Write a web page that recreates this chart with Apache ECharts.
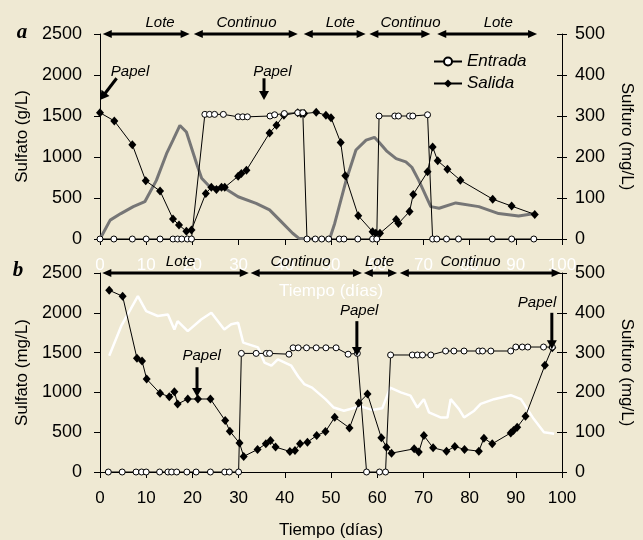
<!DOCTYPE html>
<html><head><meta charset="utf-8">
<script src="https://cdn.jsdelivr.net/npm/echarts/dist/echarts.min.js"></script>
<style>html,body{margin:0;padding:0;background:#efe9d3}#c{width:643px;height:540px}</style>
</head><body><div id="c"></div><script>
// ---------- Panel a data (x = días, y = value) ----------
const entradaA = [[0,0],[3,0],[7,0],[10,0],[13,0],[15.8,0],[16.8,0],[17.7,0],[18.9,0],[19.8,0],
 [22.7,1520],[23.7,1520],[24.8,1520],[26.7,1520],[29.9,1490],[30.9,1490],[31.9,1490],[36.8,1500],[37.8,1515],[39.9,1530],[42.8,1540],[43.9,1540],
 [44.8,0],[46.6,0],[48,0],[49.5,0],[51.8,0],[52.8,0],[55.8,0],[59,0],[59.9,0],
 [60.4,1500],[63.8,1500],[64.6,1500],[67,1500],[67.7,1500],[70.9,1515],
 [72,0],[72.9,0],[75,0],[77.6,0],[84.9,0],[89.1,0],[93.9,0]];
const salidaA = [[0,1540],[3.1,1440],[7,1150],[9.9,710],[13,585],[15.8,245],[17.1,170],[18.7,95],[19.8,110],
 [22.9,556],[24.1,630],[25.2,605],[26.3,630],[27,630],[29.9,766],[30.6,800],[31.7,839],[36.7,1293],[38.2,1387],
 [39.8,1510],[42.8,1540],[43.5,1530],[44.2,1530],[46.8,1545],[48.9,1510],[50,1480],[52.1,1176],[53.1,770],
 [55.9,284],[59,89],[59.7,70],[60.6,70],[64.1,239],[64.6,190],[67,335],[67.8,544],[70.9,819],[72,1123],
 [73.1,953],[75.2,852],[78,717],[85,486],[89.1,401],[94.1,300]];
const sulfuroA = [[0,0],[2.2,46],[4.5,62],[7.2,79],[9.7,91],[12.2,143],[14.4,208],[15.8,241],[17.3,277],[18.7,261],
 [20.9,184],[22,148],[23.8,127],[27,124],[29.9,103],[33.8,87],[36.7,71],[38.9,46],[41.7,14],[43,2],[45,0],[49.7,0],
 [50.8,38],[53.3,144],[55.4,217],[57.6,241],[59.4,248],[60.4,236],[62,215],[64.1,196],[66.2,188],[67.5,175],
 [69,143],[71.6,79],[73.4,75],[77,88],[82,79],[86.3,62],[90.6,56],[94.1,62]];
// ---------- Panel b data ----------
const entradaB = [[1.8,0],[4.8,0],[7.8,0],[9,0],[10,0],[12.9,0],[14.7,0],[15.5,0],[16.6,0],[18.8,0],[20.8,0],[23.9,0],[27,0],[28,0],[30,0],
 [30.6,1490],[33.8,1490],[36,1490],[36.7,1490],[40.9,1480],[41.8,1560],[42.9,1560],[44.7,1560],[46.8,1560],[48.9,1560],[51.1,1560],
 [53.7,1480],[55.7,1490],[57.7,0],[60.5,0],[61.8,0],
 [62.9,1470],[67.6,1470],[68.7,1470],[69.8,1470],[71.6,1470],[74.8,1520],[76.6,1520],[78.8,1520],[82,1520],[82.8,1520],[84.6,1520],
 [88.9,1520],[90,1570],[91.4,1570],[92.6,1570],[96,1570],[97.9,1570]];
const salidaB = [[2,2283],[4.9,2208],[8,1429],[9.1,1396],[10.1,1167],[13,988],[15,946],[16.1,1008],[16.8,854],[19,917],[21.2,917],[23.9,917],
 [27.1,646],[28.1,513],[30.2,363],[31.1,196],[34.1,283],[35.9,354],[36.9,396],[38,313],[41.1,258],[42.2,271],[43.3,354],[44.9,375],
 [46.9,458],[48.8,508],[50.8,687],[54,554],[56,866],[57.9,979],[60.9,429],[62,312],[63.1,237],[68,291],[69,250],[70.1,458],[72.1,304],
 [75,262],[76.8,321],[78.9,283],[82,262],[83.1,425],[84.9,354],[88.9,491],[89.5,521],[90.3,562],[92.1,700],[96.3,1341],[97.9,1562]];
const sulfuroB = [[2,292],[4.6,367],[8.2,442],[10,404],[12.5,392],[14.7,396],[16.1,358],[16.8,379],[19,354],[21.9,383],[24.1,400],
 [26.9,358],[28.4,371],[29.9,375],[31,325],[34.2,313],[35.6,275],[37.1,267],[38.5,283],[41.4,267],[42.9,240],[44.2,221],[45.9,212],
 [48.8,183],[50.6,162],[52.8,154],[56.4,165],[58.9,156],[61.1,160],[62.8,212],[65.1,200],[67.2,192],[68.7,162],[70.1,183],[71.2,150],
 [73.7,137],[75.2,137],[75.9,183],[77.7,158],[78.8,137],[81,154],[82.4,171],[85.3,183],[88.9,193],[91.1,183],[93.9,133],[96.1,100],[98.3,96]];
// ---------- annotations (data coordinates) ----------
const phasesA = [[0.6,19.4,'Lote',13],[20.3,42.8,'Continuo',31.7],[44.1,57.5,'Lote',52],[58.3,71.5,'Continuo',67.2],[73,94.6,'Lote',86.2]];
const phasesB = [[0.5,32.2,'Lote',17.4],[32.6,56.7,'Continuo',43.4],[57.1,64.3,'Lote',60.5],[64.9,99.7,'Continuo',80.2]];
// [textX, textY, arrowX1, arrowY1, arrowX2, arrowY2]
const papelA = [[6.5,2037,3.6,1960,0,1695],[37.3,2040,35.5,1960,35.5,1695]];
const papelB = [[22,1454,21,1316,21,941],[56.1,2020,55.6,1895,55.6,1458],[94.6,2125,97.8,2000,97.8,1541]];

const FONT = "'Liberation Sans', Arial, sans-serif";
const BLACK = '#000';
const chart = echarts.init(document.getElementById('c'));
const plain = v => String(v);

function xAx(gi, labelColor, gap) {
  return {type:'value', gridIndex:gi, min:0, max:100, interval:10,
    axisLine:{onZero:false, lineStyle:{color:BLACK, width:1}}, axisTick:{length:6, lineStyle:{color:BLACK}},
    axisLabel:{color:labelColor, fontSize:17, fontFamily:FONT, margin:18, formatter:plain}, splitLine:{show:false},
    name:'Tiempo (días)', nameLocation:'middle', nameGap:gap, nameTextStyle:{color:labelColor, fontSize:17, fontFamily:FONT}};
}
function yLeft(gi, name) {
  return {type:'value', gridIndex:gi, min:0, max:2500, interval:500, position:'left',
    axisLine:{show:true, lineStyle:{color:BLACK}}, axisTick:{show:true, length:6, lineStyle:{color:BLACK}},
    axisLabel:{color:BLACK, fontSize:18, fontFamily:FONT, margin:18, formatter:plain}, splitLine:{show:false},
    name:name, nameLocation:'middle', nameGap:62, nameRotate:90, nameTextStyle:{color:BLACK, fontSize:17, fontFamily:FONT}};
}
function yRight(gi) {
  return {type:'value', gridIndex:gi, min:0, max:500, interval:100, position:'right',
    axisLine:{show:true, lineStyle:{color:BLACK}}, axisTick:{show:true, length:5, lineStyle:{color:BLACK}},
    axisLabel:{color:BLACK, fontSize:18, fontFamily:FONT, margin:13, formatter:plain}, splitLine:{show:false},
    name:'Sulfuro (mg/L)', nameLocation:'middle', nameGap:56, nameRotate:-90, nameTextStyle:{color:BLACK, fontSize:17, fontFamily:FONT}};
}
function yRightInner(gi) {
  return {type:'value', gridIndex:gi, min:0, max:500, interval:100, position:'right',
    axisLine:{show:false}, axisTick:{show:true, inside:true, length:5, lineStyle:{color:BLACK}},
    axisLabel:{show:false}, splitLine:{show:false}};
}
function entradaSeries(name, xi, yi, data) {
  return {name, type:'line', xAxisIndex:xi, yAxisIndex:yi, data, symbol:'circle', symbolSize:6, z:5,
    itemStyle:{color:'#fff', borderColor:BLACK, borderWidth:1}, lineStyle:{color:BLACK, width:1}};
}
function salidaSeries(name, xi, yi, data) {
  return {name, type:'line', xAxisIndex:xi, yAxisIndex:yi, data, symbol:'diamond', symbolSize:[8,9], z:4,
    itemStyle:{color:BLACK}, lineStyle:{color:BLACK, width:1}};
}

chart.setOption({
  animation:false,
  backgroundColor:'#efe9d3',
  textStyle:{fontFamily:FONT},
  grid:[{left:100, top:34, width:463, height:205}, {left:100, top:273, width:462, height:200}],
  xAxis:[xAx(0,'#ffffff',44), xAx(1,BLACK,50)],
  yAxis:[yLeft(0,'Sulfato (g/L)'), yRight(0), yLeft(1,'Sulfato (mg/L)'), yRight(1), yRightInner(0), yRightInner(1)],
  legend:{data:['Entrada','Salida'], left:428, top:48, orient:'vertical', itemWidth:28, itemHeight:10, itemGap:5,
    textStyle:{fontStyle:'italic', fontSize:17, color:BLACK, fontFamily:FONT}},
  series:[
    {name:'Sulfuro a', type:'line', xAxisIndex:0, yAxisIndex:1, data:sulfuroA, symbol:'none', z:2,
      lineStyle:{color:'#767676', width:3}},
    entradaSeries('Entrada',0,0,entradaA),
    salidaSeries('Salida',0,0,salidaA),
    {name:'Sulfuro b', type:'line', xAxisIndex:1, yAxisIndex:3, data:sulfuroB, symbol:'none', z:2,
      lineStyle:{color:'#ffffff', width:2.5}},
    entradaSeries('Entrada b',1,2,entradaB),
    salidaSeries('Salida b',1,2,salidaB)
  ]
});

function toPx(gi, x, y) {
  return chart.convertToPixel(gi === 0 ? {xAxisIndex:0, yAxisIndex:0} : {xAxisIndex:1, yAxisIndex:2}, [x, y]);
}
function head(tip, from, len, half) {
  const dx = tip[0]-from[0], dy = tip[1]-from[1], d = Math.hypot(dx,dy) || 1;
  const ux = dx/d, uy = dy/d, bx = tip[0]-ux*len, by = tip[1]-uy*len;
  return {type:'polygon', z:100, shape:{points:[tip,[bx-uy*half, by+ux*half],[bx+uy*half, by-ux*half]]}, style:{fill:BLACK}};
}
const g = [];
function phase(gi, list) {
  list.forEach(p => {
    const a = toPx(gi, p[0], 2500), b = toPx(gi, p[1], 2500);
    g.push({type:'line', z:100, shape:{x1:a[0]+6, y1:a[1], x2:b[0]-6, y2:b[1]}, style:{stroke:BLACK, lineWidth:3}});
    g.push(head(a, b, 9, 4)); g.push(head(b, a, 9, 4));
    const t = toPx(gi, p[3], 2500);
    g.push({type:'text', z:100, style:{text:p[2], x:t[0], y:t[1]-11, align:'center', verticalAlign:'middle',
      font:'italic 15px ' + FONT, fill:BLACK}});
  });
}
function papel(gi, list) {
  list.forEach(p => {
    const t = toPx(gi, p[0], p[1]), a = toPx(gi, p[2], p[3]), b = toPx(gi, p[4], p[5]);
    const dx=b[0]-a[0], dy=b[1]-a[1], d=Math.hypot(dx,dy);
    g.push({type:'line', z:100, shape:{x1:a[0], y1:a[1], x2:b[0]-dx/d*6, y2:b[1]-dy/d*6}, style:{stroke:BLACK, lineWidth:3}});
    g.push(head(b, a, 9, 5));
    g.push({type:'text', z:100, style:{text:'Papel', x:t[0], y:t[1], align:'center', verticalAlign:'middle',
      font:'italic 15px ' + FONT, fill:BLACK}});
  });
}
phase(0, phasesA); phase(1, phasesB);
papel(0, papelA); papel(1, papelB);
g.push({type:'text', z:100, style:{text:'a', x:22, y:33, align:'center', verticalAlign:'middle', font:'italic bold 21px "Liberation Serif", serif', fill:BLACK}});
g.push({type:'text', z:100, style:{text:'b', x:18, y:271, align:'center', verticalAlign:'middle', font:'italic bold 21px "Liberation Serif", serif', fill:BLACK}});
chart.setOption({graphic:g});
</script></body></html>
